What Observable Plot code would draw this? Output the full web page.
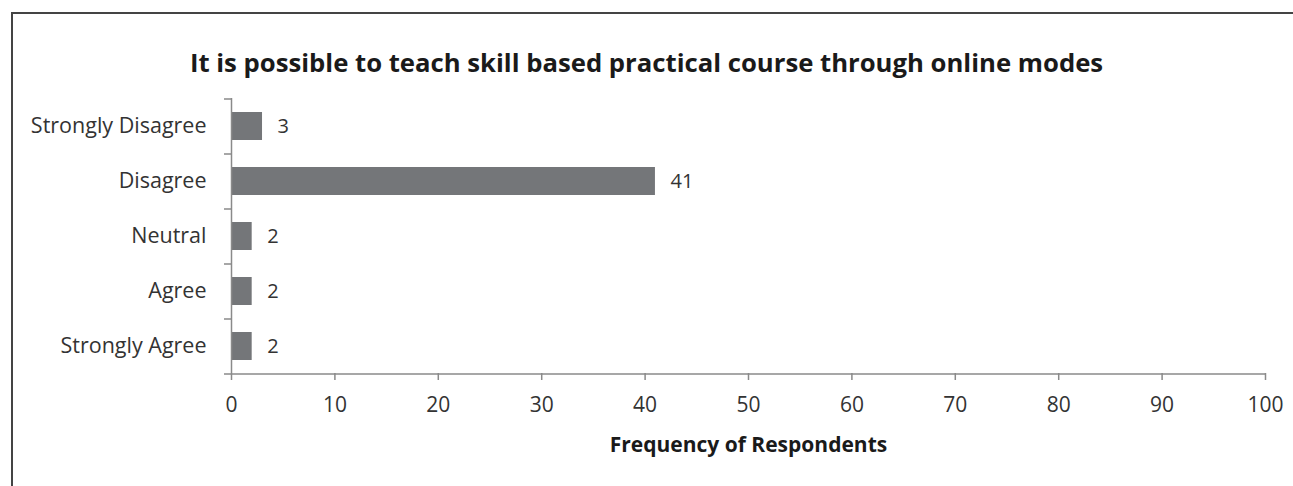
<!DOCTYPE html>
<html>
<head>
<meta charset="utf-8">
<script src="https://cdn.jsdelivr.net/npm/d3@7"></script>
<script src="https://cdn.jsdelivr.net/npm/@observablehq/plot@0.6"></script>
<style>
  body { margin: 0; background: #fff; }
  #chart { position: relative; width: 1293px; height: 486px; overflow: hidden; background: #fff; font-family: "Open Sans", Lato, sans-serif; }
  #frame { position: absolute; left: 11px; top: 12px; width: 1300px; height: 600px; border-left: 2px solid #444; border-top: 2px solid #444; }
  #title { position: absolute; left: 0; top: 45px; width: 1293px; text-align: center; font-weight: bold; font-size: 25.7px; color: #1a1a1a; line-height: 36px; }
  #plot { position: absolute; left: 0; top: 0; }
</style>
</head>
<body>
<div id="chart">
  <div id="frame"></div>
  <div id="title"></div>
  <div id="plot"></div>
</div>
<script>
const titleText = "It is possible to teach skill based practical course through online modes";
const categories = ["Strongly Disagree", "Disagree", "Neutral", "Agree", "Strongly Agree"];
const frequencies = [3, 41, 2, 2, 2];
const xTicks = [0, 10, 20, 30, 40, 50, 60, 70, 80, 90, 100];
const xLabel = "Frequency of Respondents";

const data = categories.map((c, i) => ({category: c, value: frequencies[i]}));
document.getElementById("title").textContent = titleText;

const axisColor = "#8a8a8a";
const textColor = "#333";
const marginTop = 98, marginBottom = 113;
const plotH = 486 - marginTop - marginBottom;
const step = plotH / categories.length;

const chart = Plot.plot({
  width: 1293,
  height: 486,
  marginLeft: 231,
  marginRight: 28,
  marginTop,
  marginBottom,
  style: {fontFamily: "'Open Sans', Lato, sans-serif", color: textColor, background: "transparent"},
  x: {domain: [0, 100]},
  y: {domain: categories, paddingInner: 0.5, paddingOuter: 0.25},
  marks: [
    Plot.barX(data, {x: "value", y: "category", fill: "#747679"}),
    Plot.text(data, {x: "value", y: "category", text: d => String(d.value), textAnchor: "start", dx: 15, fontSize: 20, fill: textColor}),
    // y axis line
    Plot.ruleX([0], {stroke: axisColor, strokeWidth: 1.5}),
    // band-edge ticks on y axis (top edges)
    Plot.ruleY(categories, {y: d => d, x1: 0, x2: 0, insetLeft: -7, dy: -step / 2, stroke: axisColor, strokeWidth: 1.5}),
    // x axis line at bottom band edge
    Plot.ruleY([categories[categories.length - 1]], {y: d => d, x1: 0, x2: 100, insetLeft: -7, dy: step / 2, stroke: axisColor, strokeWidth: 1.5}),
    Plot.axisX({ticks: xTicks, tickFormat: d => String(d), tickSize: 7, tickPadding: 17, fontSize: 21, stroke: axisColor, strokeWidth: 1.5, fill: textColor, label: null}),
    Plot.axisY({tickSize: 0, tickPadding: 25, fontSize: 21.5, fill: textColor, label: null}),
    Plot.text([xLabel], {frameAnchor: "bottom", dy: 72, lineAnchor: "middle", fontSize: 21, fontWeight: "bold", fill: "#1a1a1a"})
  ]
});
document.getElementById("plot").appendChild(chart);
</script>
</body>
</html>
